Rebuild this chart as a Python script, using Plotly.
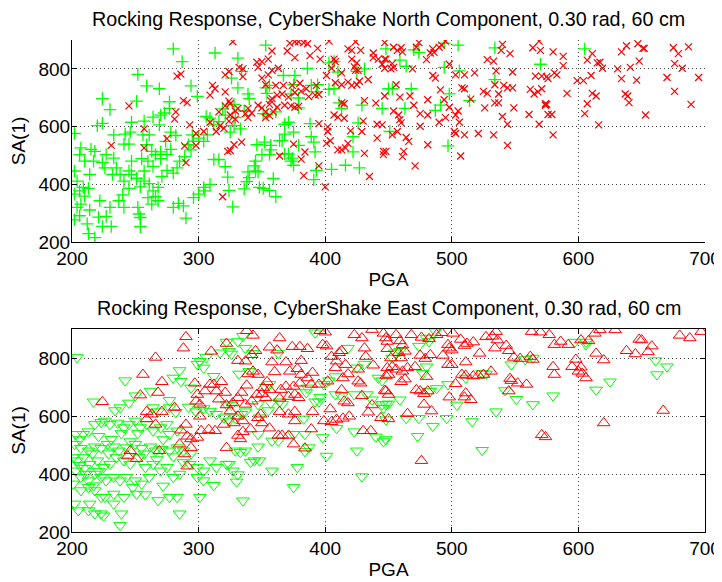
import plotly.graph_objects as go
from plotly.subplots import make_subplots

# ---- Data (PGA, SA(1)) ----
# North component: green "+" series
north_green = [
(280,869),(313,855),(287,825),(252,781),(259,741),(269,731),(224,697),(251,688),(230,659),(277,686),
(294,741),(299,705),(247,615),(224,611),(220,603),(202,576),(233,571),(242,574),(246,581),(241,539),
(245,539),(256,571),(261,571),(264,633),(270,640),(273,647),(277,663),(257,619),(269,606),(278,581),
(282,569),(259,537),(263,514),(266,503),(270,489),(255,489),(247,480),(245,446),(235,457),(232,434),
(226,457),(224,475),(217,480),(214,434),(210,480),(206,503),(207,526),(215,521),(218,514),(202,446),
(204,411),(209,389),(213,386),(206,377),(202,366),(210,359),(204,320),(207,331),(214,311),(206,291),
(202,277),(212,263),(213,229),(218,215),(224,254),(231,254),(227,289),(221,286),(230,320),(222,343),
(237,343),(241,320),(240,363),(245,386),(251,421),(254,391),(257,411),(261,402),(264,377),(268,389),
(266,357),(260,354),(252,320),(253,297),(254,285),(254,253),(263,331),(268,343),(271,427),(275,448),
(280,439),(283,457),(285,480),(289,496),(292,537),(296,549),(300,560),(304,549),(307,571),(295,571),
(294,519),(280,320),(284,334),(288,325),(290,283),(296,354),(278,521),(274,549),(309,629),(306,635),
(312,606),(316,617),(319,661),(321,640),(305,377),(309,400),(312,486),(316,486),(321,461),(323,425),
(304,389),(300,366),(238,434),(241,411),(247,434),(257,446),(260,480),(264,462),(233,491),(227,503),
(270,512),(275,503),
(353,882),(331,837),(334,791),(326,768),(331,734),(339,713),(340,697),(328,677),(336,654),(329,631),
(328,603),(325,581),(333,592),(353,734),(356,743),(354,715),(367,777),(376,777),(375,745),(389,743),
(394,745),(386,802),(393,720),(373,713),(379,699),(361,651),(354,642),(351,645),(379,665),(368,608),
(371,615),(375,581),(368,574),(366,551),(388,610),(389,565),(391,546),(392,512),(379,535),(364,551),
(357,535),(357,519),(352,546),(346,537),(350,503),(356,503),(368,505),(371,505),(373,480),(375,466),
(374,491),(345,480),(344,464),(345,446),(339,443),(340,423),(347,443),(338,409),(336,384),(348,389),
(351,386),(356,379),(359,420),(361,357),(324,379),(327,322),(393,448),(391,416),(405,452),(416,466),
(427,457),(422,512),(422,565),(426,613),(429,674),(413,663),(411,682),(407,731),(403,729),(403,821),
(407,825),(410,789),(425,791),(431,800),(448,869),(445,663),(450,731),
(470,866),(474,857),(494,889),(505,882),(534,873),(459,830),(464,809),(494,805),(506,793),(534,763),
(453,731),(468,731),(498,713),(514,690),(491,674),(487,656),(463,663),(451,583),(497,533),(570,816),
(605,869),
]

# North component: red "x" series
north_red = [
(283,775),(286,782),(245,672),(257,592),(231,535),(257,526),(275,558),(290,475),(289,533),(298,535),
(282,651),(281,626),(288,690),(291,683),(293,606),(298,576),(304,583),(309,709),(311,743),(313,731),
(321,720),(321,779),(321,672),(316,651),(309,615),(314,583),(317,603),(320,594),(319,357),(323,514),
(327,894),(372,889),(376,894),(379,894),(383,891),(386,887),(370,862),(358,862),(355,834),(350,825),
(346,823),(347,805),(335,800),(332,805),(324,791),(335,773),(358,795),(363,802),(376,839),(388,846),
(394,871),(403,896),(396,834),(407,834),(408,825),(405,802),(401,777),(350,768),(353,745),(361,743),
(367,743),(374,743),(380,750),(385,731),(362,709),(366,713),(371,702),(376,718),(381,722),(387,704),
(392,709),(395,711),(393,743),(358,697),(347,674),(350,665),(353,651),(356,677),(362,667),(368,674),
(373,672),(376,667),(379,670),(339,663),(342,647),(331,663),(325,679),(325,640),(329,654),(337,645),
(339,631),(329,626),(324,619),(353,631),(356,638),(359,651),(357,690),(413,786),(418,869),(421,864),
(424,894),(428,864),(421,834),(425,821),(423,807),(424,795),(426,795),(425,745),(421,743),(418,754),
(413,745),(408,752),(427,757),(434,763),(438,839),(438,855),(442,834),(447,834),(447,891),(447,802),
(445,816),(447,706),(440,681),(431,690),(415,679),(407,640),(410,633),(415,629),(402,599),(402,583),
(401,542),(404,551),(410,519),(413,519),(416,526),(418,542),(420,585),(429,583),(430,619),(441,608),
(445,606),(441,560),(446,514),(446,503),(431,507),(435,427),(400,391),(395,464),(383,430),(381,487),
(384,512),(375,539),(364,498),(355,779),(334,546),(325,517),(328,537),(324,688),(395,610),(413,682),
(454,875),(460,873),(457,864),(461,859),(474,891),(472,875),(485,869),(486,857),(483,855),(490,875),
(492,882),(495,896),(448,834),(453,818),(454,805),(452,800),(480,832),(469,800),(485,777),(487,768),
(498,816),(503,779),(510,779),(518,786),(540,885),(539,864),(546,853),(528,832),(533,827),(535,793),
(548,789),(564,873),(569,896),(570,864),(566,775),(571,775),(456,745),(459,702),(467,706),(470,674),
(481,693),(491,727),(508,734),(510,731),(515,695),(525,722),(528,715),(537,713),(534,745),(541,743),
(544,734),(548,734),(562,729),(565,713),(568,720),(571,731),(574,679),(454,654),(458,640),(459,624),
(460,613),(475,645),(481,640),(475,601),(490,615),(495,631),(494,693),(498,667),(503,640),(505,654),
(506,615),(502,583),(503,576),(510,571),(521,576),(533,571),(526,665),(534,682),(537,682),(549,665),
(540,635),(544,608),(561,642),(569,608),(574,674),(453,571),(457,583),(464,562),(466,549),(481,537),
(448,514),(462,514),(461,496),(471,464),(507,498),(544,535),
(580,859),(588,843),(588,811),(581,786),(583,779),(575,773),(576,766),(599,759),(604,759),(591,715),
(575,677),(576,642),(579,642),(580,571),(611,853),(607,830),(615,821),(617,823),(619,802),(610,777),
(611,715),(614,706),(607,679),(605,645),(616,606),(634,859),(638,880),(647,887),(651,871),(652,871),
(648,827),(641,805),(631,800),(634,766),(646,761),(637,713),(639,706),(640,683),(653,640),(675,873),
(679,853),(687,876),(676,818),(682,802),(670,770),(676,722),(689,677),(695,770),
]

# East component: green downward-triangle series
east_green = [
(204,802),(242,722),(217,649),(280,731),(286,720),(285,757),(299,779),(304,766),(301,789),(306,802),
(317,818),(322,855),(312,737),(294,697),(262,686),(250,670),(245,645),(238,629),(234,619),(264,629),
(268,615),(277,654),(277,629),(282,613),(292,631),(298,615),(304,626),(309,617),(314,606),(320,594),
(322,640),(203,537),(206,519),(209,537),(213,546),(218,571),(223,578),(226,583),(230,571),(236,576),
(241,560),(245,571),(250,583),(254,560),(259,571),(264,549),(270,560),(275,571),(277,537),(283,549),
(272,519),(202,503),(207,489),(213,480),(218,494),(223,489),(228,503),(233,494),(237,480),(243,491),
(250,503),(255,489),(262,494),(266,480),(271,485),(277,480),(283,491),(288,480),(201,457),(204,446),
(209,457),(214,434),(220,446),(225,423),(230,434),(235,457),(241,446),(246,434),(253,457),(258,423),
(264,434),(270,411),(275,423),(280,389),(285,400),(293,434),(299,423),(304,411),(309,446),(314,423),
(322,434),(203,411),(207,389),(213,377),(218,400),(223,389),(227,377),(233,389),(238,377),(243,389),
(250,377),(255,366),(261,389),(299,389),(304,377),(312,361),(201,366),(207,343),(213,354),(218,343),
(223,320),(226,320),(233,331),(241,320),(248,354),(251,331),(258,329),(268,309),(272,359),(277,320),
(283,320),(202,297),(205,274),(213,274),(218,263),(223,263),(225,256),(214,297),(233,297),(239,263),
(238,223),(285,263),(301,320),(210,420),(216,470),(221,410),(229,470),(206,430),(211,400),(217,360),
(221,530),(231,520),(239,540),(246,512),(252,540),(257,470),(267,450),(280,460),(288,440),(294,470),
(335,875),(331,857),(337,834),(343,816),(324,823),(326,814),(340,754),(332,745),(356,709),(353,699),
(363,816),(392,887),(418,834),(425,766),(431,779),(408,736),(403,722),(399,709),(386,697),(385,681),
(396,665),(395,649),(366,640),(364,649),(357,645),(347,640),(355,619),(348,594),(337,615),(334,606),
(329,594),(324,583),(326,638),(383,590),(392,649),(408,674),(413,667),(423,674),(433,674),(437,656),
(445,640),(446,627),(448,640),(445,722),(442,731),(347,537),(358,514),(363,514),(375,537),(384,537),
(398,526),(409,558),(423,546),(440,528),(446,512),(347,494),(329,480),(333,475),(337,480),(341,441),
(344,446),(348,446),(327,411),(331,398),(330,373),(358,411),(378,423),(387,491),(384,478),(401,462),
(425,480),(429,391),(375,354),(335,308),(324,434),
(487,891),(480,869),(482,857),(474,841),(459,823),(455,818),(453,800),(480,770),(477,747),(497,709),
(483,686),(488,695),(511,731),(524,747),(527,745),(547,777),(558,795),(564,800),(542,688),(551,658),
(564,640),(535,615),(516,581),(496,592),(504,638),(474,592),(464,592),(459,656),(485,565),(473,530),
(448,587),(448,519),(450,642),(524,482),
(597,855),(606,846),(606,855),(580,670),(614,690),(625,718),(661,791),(670,770),(662,743),
]

# East component: red upward-triangle series
east_red = [
(290,873),(288,834),(266,802),(256,743),(271,718),(268,681),(254,672),(224,649),(259,615),(263,606),
(271,615),(259,590),(266,571),(281,629),(310,823),(297,713),(299,674),(298,651),(301,640),(305,686),
(309,709),(312,709),(318,718),(314,686),(321,681),(316,658),(322,638),(322,850),(290,571),(286,551),
(291,530),(294,521),(299,526),(302,549),(308,553),(313,549),(320,571),(322,491),(289,469),(291,427),
(294,491),(246,480),(251,453),(244,462),(269,480),(285,503),(301,599),
(338,894),(343,878),(364,869),(396,894),(400,889),(398,846),(401,841),(374,839),(380,839),(386,832),
(356,837),(362,827),(342,811),(345,825),(331,791),(337,789),(358,786),(369,786),(381,791),(405,805),
(411,818),(413,825),(423,880),(429,869),(437,898),(446,885),(449,857),(431,834),(432,805),(438,775),
(409,789),(408,766),(414,731),(418,745),(416,777),(426,761),(428,713),(347,743),(339,745),(343,754),
(360,752),(372,754),(378,763),(381,743),(386,731),(390,750),(395,709),(402,720),(380,713),(375,702),
(369,702),(365,691),(356,691),(351,697),(350,677),(346,674),(338,706),(334,681),(331,663),(327,645),
(325,617),(328,576),(331,599),(335,583),(337,640),(342,651),(353,663),(364,661),(371,667),(376,674),
(379,663),(347,594),(350,576),(349,606),(341,555),(335,546),(331,533),(333,521),(356,558),(364,615),
(371,606),(376,615),(376,583),(363,533),(366,533),(371,533),(375,503),(384,489),(390,615),(399,583),
(405,580),(409,588),(414,592),(419,599),(389,555),(415,651),(418,645),(429,670),(434,613),(437,638),
(444,594),(450,590),(447,688),(430,549),(436,549),(389,709),(413,690),(404,624),(426,720),(354,718),
(448,869),(456,880),(468,880),(476,871),(482,866),(488,880),(492,887),(501,885),(459,859),(461,845),
(449,832),(452,800),(458,818),(463,823),(460,800),(475,809),(479,798),(483,811),(493,809),(498,834),
(500,827),(497,846),(507,864),(512,850),(517,855),(510,843),(522,816),(511,786),(527,873),(532,875),
(535,891),(536,862),(534,834),(543,843),(545,825),(549,802),(554,798),(563,891),(570,889),(562,805),
(564,795),(497,777),(500,777),(449,766),(453,770),(456,761),(461,754),(465,766),(471,770),(480,736),
(448,738),(450,743),(460,718),(463,727),(472,690),(475,686),(478,677),(481,686),(448,686),(450,674),
(498,665),(503,711),(508,743),(511,740),(517,738),(521,740),(525,743),(531,754),(511,679),(510,665),
(515,656),(546,729),(547,722),(552,713),(559,709),(545,686),(478,640),(465,608),(484,617),(571,535),
(476,446),
(577,880),(581,846),(586,857),(592,846),(602,862),(608,859),(613,885),(617,897),(629,897),(614,816),
(620,793),(598,795),(595,770),(602,768),(600,754),(603,747),(606,731),(580,770),(581,743),(638,825),
(645,814),(648,864),(650,862),(655,821),(658,841),(680,878),(688,869),(697,891),(667,619),(620,576),
(574,528),
]

titles = ["Rocking Response, CyberShake North Component, 0.30 rad, 60 cm",
          "Rocking Response, CyberShake East Component, 0.30 rad, 60 cm"]
x_ticks = [200, 300, 400, 500, 600, 700]
y_ticks = [200, 400, 600, 800]

GREEN = "#00ff00"
RED = "#ff0000"
FONT = "Liberation Sans, Arial, Helvetica, sans-serif"

fig = make_subplots(rows=2, cols=1, vertical_spacing=0.17)

def xy(pts):
    return [p[0] for p in pts], [p[1] for p in pts]

gx, gy = xy(north_green)
fig.add_trace(go.Scatter(x=gx, y=gy, mode="markers", name="North green",
    marker=dict(symbol="cross-thin", size=9, color=GREEN, line=dict(color=GREEN, width=1.3))), row=1, col=1)
rx, ry = xy(north_red)
fig.add_trace(go.Scatter(x=rx, y=ry, mode="markers", name="North red",
    marker=dict(symbol="x-thin", size=7, color=RED, line=dict(color=RED, width=1.2))), row=1, col=1)

gx, gy = xy(east_green)
fig.add_trace(go.Scatter(x=gx, y=gy, mode="markers", name="East green",
    marker=dict(symbol="triangle-down-open", size=11, color=GREEN, line=dict(color=GREEN, width=1))), row=2, col=1)
rx, ry = xy(east_red)
fig.add_trace(go.Scatter(x=rx, y=ry, mode="markers", name="East red",
    marker=dict(symbol="triangle-up-open", size=11, color=RED, line=dict(color=RED, width=1))), row=2, col=1)

axis_common = dict(showline=True, linecolor="black", linewidth=1, ticks="inside", ticklen=5,
                   tickcolor="black", showgrid=True, gridcolor="#444444", griddash="1px,3px",
                   gridwidth=1, zeroline=False, automargin=False,
                   tickfont=dict(size=19, color="black", family=FONT))

for r, box in ((1, False), (2, True)):
    fig.update_xaxes(range=[200, 700], tickvals=x_ticks, mirror="ticks" if box else False,
                     ticklabelstandoff=-1,
                     title=dict(text="PGA", font=dict(size=19, color="black", family=FONT), standoff=4),
                     row=r, col=1, **axis_common)
    fig.update_yaxes(range=[200, 900], tickvals=y_ticks, mirror="ticks" if box else False,
                     ticklabelstandoff=-3,
                     title=dict(text="SA(1)", font=dict(size=19, color="black", family=FONT), standoff=10),
                     row=r, col=1, **axis_common)

# The page body adds an 8 px offset, so the figure is sized to fill the
# 722x582 window from that offset.
fig.update_layout(
    width=714, height=574,
    margin=dict(l=64, r=17, t=32, b=50),
    paper_bgcolor="white", plot_bgcolor="white",
    showlegend=False,
    font=dict(family=FONT, color="black"),
    xaxis=dict(domain=[0, 1]), yaxis=dict(domain=[0.5894, 1.0]),
    xaxis2=dict(domain=[0, 1]), yaxis2=dict(domain=[0.0, 0.4126]),
    annotations=[
        dict(text=titles[0], x=0.5, y=1.0, xref="paper", yref="paper", xanchor="center",
             yanchor="bottom", yshift=8, showarrow=False, font=dict(size=19.7, family=FONT, color="black")),
        dict(text=titles[1], x=0.5, y=0.4126, xref="paper", yref="paper", xanchor="center",
             yanchor="bottom", yshift=8, showarrow=False, font=dict(size=19.7, family=FONT, color="black")),
    ],
)

fig.write_html("out.html")
